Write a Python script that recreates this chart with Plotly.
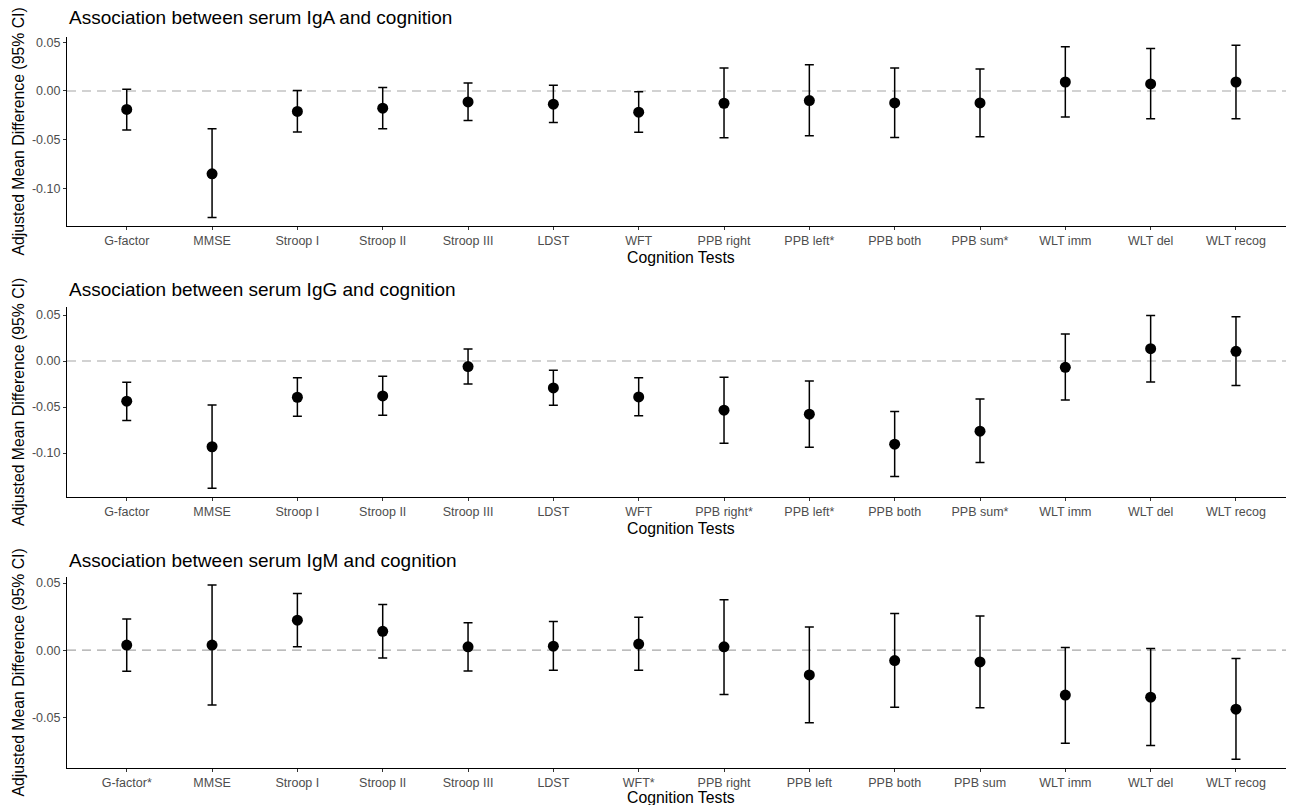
import plotly.graph_objects as go

# ---- data ----
tests_iga = ["G-factor", "MMSE", "Stroop I", "Stroop II", "Stroop III", "LDST", "WFT",
             "PPB right", "PPB left*", "PPB both", "PPB sum*", "WLT imm", "WLT del", "WLT recog"]
iga_est = [-0.019, -0.085, -0.021, -0.0177, -0.0112, -0.0136, -0.0218,
           -0.0126, -0.0099, -0.0123, -0.0123, 0.0092, 0.0072, 0.0092]
iga_lower = [-0.040, -0.130, -0.042, -0.0389, -0.0303, -0.0324, -0.0423,
             -0.048, -0.046, -0.0477, -0.047, -0.0266, -0.0286, -0.0286]
iga_upper = [0.0017, -0.0389, 0.0004, 0.0035, 0.0082, 0.0058, -0.0007,
             0.0235, 0.0269, 0.0235, 0.0225, 0.0453, 0.0436, 0.047]

tests_igg = ["G-factor", "MMSE", "Stroop I", "Stroop II", "Stroop III", "LDST", "WFT",
             "PPB right*", "PPB left*", "PPB both", "PPB sum*", "WLT imm", "WLT del", "WLT recog"]
igg_est = [-0.0437, -0.0932, -0.0394, -0.0379, -0.0061, -0.0293, -0.039,
           -0.0535, -0.0578, -0.0904, -0.0763, -0.0069, 0.0134, 0.0105]
igg_lower = [-0.0647, -0.1384, -0.060, -0.0589, -0.0249, -0.048, -0.0596,
             -0.0893, -0.0936, -0.1254, -0.1102, -0.0423, -0.0228, -0.0267]
igg_upper = [-0.0231, -0.0477, -0.0181, -0.0166, 0.0130, -0.0101, -0.0181,
             -0.0177, -0.0217, -0.0549, -0.0412, 0.0293, 0.0495, 0.0481]

tests_igm = ["G-factor*", "MMSE", "Stroop I", "Stroop II", "Stroop III", "LDST", "WFT*",
             "PPB right", "PPB left", "PPB both", "PPB sum", "WLT imm", "WLT del", "WLT recog"]
igm_est = [0.0038, 0.0038, 0.0223, 0.014, 0.0025, 0.003, 0.0045,
           0.0025, -0.0185, -0.0078, -0.0088, -0.0335, -0.035, -0.044]
igm_lower = [-0.0158, -0.0408, 0.0025, -0.0058, -0.0155, -0.015, -0.015,
             -0.033, -0.054, -0.0425, -0.043, -0.0693, -0.071, -0.0813]
igm_upper = [0.0233, 0.0485, 0.0423, 0.034, 0.0205, 0.0213, 0.0245,
             0.0375, 0.0173, 0.0273, 0.0255, 0.002, 0.0013, -0.0063]

panel_titles = ["Association between serum IgA and cognition",
                "Association between serum IgG and cognition",
                "Association between serum IgM and cognition"]
y_title = "Adjusted Mean Difference (95% CI)"
x_title = "Cognition Tests"
y_tickvals = [[0.05, 0.0, -0.05, -0.10], [0.05, 0.0, -0.05, -0.10], [0.05, 0.0, -0.05]]
y_ticktext = [["0.05", "0.00", "-0.05", "-0.10"], ["0.05", "0.00", "-0.05", "-0.10"],
              ["0.05", "0.00", "-0.05"]]

panels = [(tests_iga, iga_est, iga_lower, iga_upper),
          (tests_igg, igg_est, igg_lower, igg_upper),
          (tests_igm, igm_est, igm_lower, igm_upper)]

# ---- layout geometry (page has an 8px body margin, so compensate) ----
OFF = 8
W, H = 1294 - OFF, 805 - OFF
FONT = "Liberation Sans, Arial, sans-serif"


def px_x(p):
    return (p - OFF) / W


def px_y(p):
    return 1 - (p - OFF) / H


x_dom = [px_x(67), 1.0]
plot_px = [(37, 226), (307, 497), (577, 768)]   # top, bottom in page px
y_ranges = [[-0.1386, 0.0554], [-0.1478, 0.0587], [-0.0878, 0.0545]]
x_range = [-0.70, 13.68]
title_y_px = [18, 289, 560]
xlab_y_px = [257, 528, 797]

fig = go.Figure()
annotations = []
for i, (cats, est, lo, up) in enumerate(panels):
    n = i + 1
    xa = "x" if n == 1 else f"x{n}"
    ya = "y" if n == 1 else f"y{n}"
    fig.add_trace(go.Scatter(
        x=cats, y=est, mode="markers",
        marker=dict(color="black", size=11),
        error_y=dict(type="data", symmetric=False,
                     array=[u - e for u, e in zip(up, est)],
                     arrayminus=[e - l for e, l in zip(est, lo)],
                     color="black", thickness=1.5, width=4.5),
        xaxis=xa, yaxis=ya, showlegend=False, hoverinfo="skip"))
    top, bot = plot_px[i]
    dom = [px_y(bot), px_y(top)]
    axis_common = dict(showline=True, linecolor="black", linewidth=1.2,
                       ticks="outside", ticklen=3, tickcolor="#333333", tickwidth=1,
                       showgrid=False, zeroline=False,
                       tickfont=dict(family=FONT, size=12.5, color="#4D4D4D"))
    fig.update_layout(**{
        ("xaxis" if n == 1 else f"xaxis{n}"): dict(
            domain=x_dom, anchor=ya, type="category", categoryorder="array",
            categoryarray=cats, range=x_range, **axis_common),
        ("yaxis" if n == 1 else f"yaxis{n}"): dict(
            domain=dom, anchor=xa, range=y_ranges[i],
            tickvals=y_tickvals[i], ticktext=y_ticktext[i], **axis_common),
    })
    fig.add_shape(type="line", xref=f"{xa} domain", yref=ya, x0=0, x1=1, y0=0, y1=0,
                  line=dict(color="#A6A6A6", width=1.1, dash="9px,6px"), layer="below")
    annotations.append(dict(text=panel_titles[i], xref="paper", yref="paper",
                            x=px_x(67), y=px_y(title_y_px[i]), xanchor="left",
                            yanchor="middle", showarrow=False,
                            font=dict(family=FONT, size=19, color="black")))
    annotations.append(dict(text=y_title, xref="paper", yref="paper",
                            x=px_x(18), y=px_y((top + bot) / 2), xanchor="center",
                            yanchor="middle", textangle=-90, showarrow=False,
                            font=dict(family=FONT, size=15.8, color="black")))
    annotations.append(dict(text=x_title, xref="paper", yref="paper",
                            x=px_x((67 + 1294) / 2), y=px_y(xlab_y_px[i]), xanchor="center",
                            yanchor="middle", showarrow=False,
                            font=dict(family=FONT, size=15.8, color="black")))

fig.update_layout(width=W, height=H, margin=dict(l=0, r=0, t=0, b=0),
                  plot_bgcolor="white", paper_bgcolor="white",
                  annotations=annotations)
fig.write_html("out.html")
